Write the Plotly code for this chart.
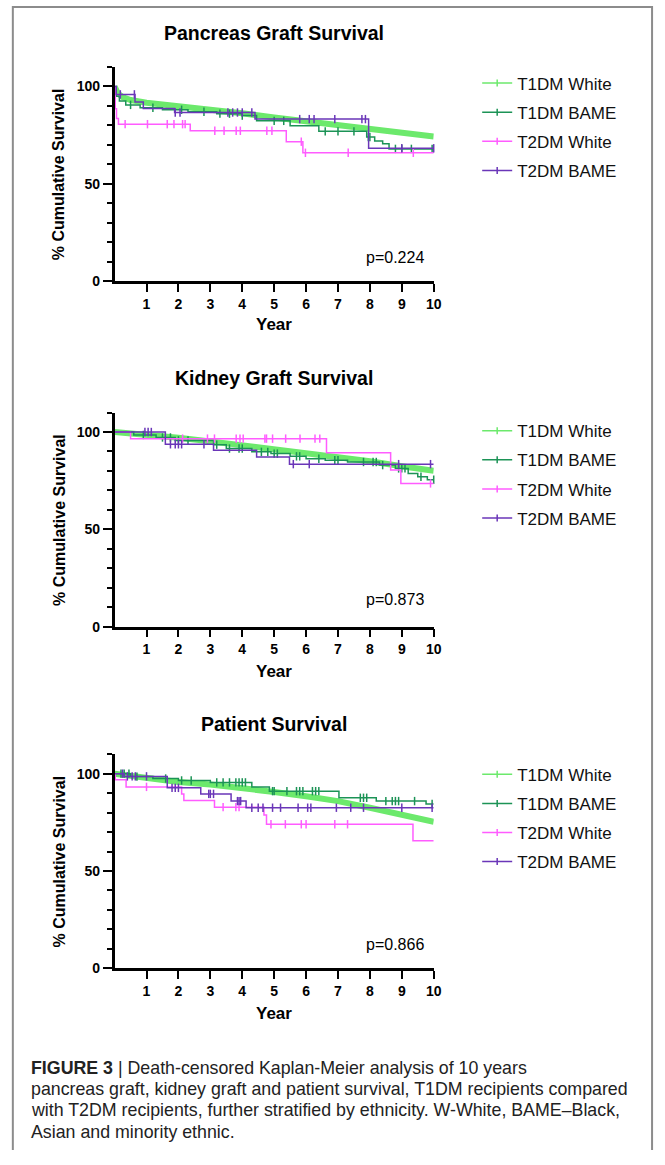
import plotly.graph_objects as go

FONT = "Liberation Sans, Arial, Helvetica, sans-serif"
W, H = 665, 1165

# ---------------------------
# Données
# ---------------------------
series_names = ["T1DM White", "T1DM BAME", "T2DM White", "T2DM BAME"]
series_colors = ["#6CE96C", "#1C9356", "#FF5CFF", "#6A36B8"]
panel_titles = ["Pancreas Graft Survival", "Kidney Graft Survival", "Patient Survival"]
p_values = ["p=0.224", "p=0.873", "p=0.866"]
x_ticks = [1, 2, 3, 4, 5, 6, 7, 8, 9, 10]

# Pancreas
panc_t1w_t = [0, 0.1, 0.25, 0.5, 1, 2, 3, 4, 5, 6, 7, 8, 9, 10]
panc_t1w_s = [100, 96.5, 94.5, 93, 91.6, 89.9, 87.9, 86.2, 84, 82, 79.8, 78.1, 76.4, 74.3]
panc_t1b_t = [0, 0.05, 0.15, 0.35, 0.8, 1.5, 2.3, 3.2, 4.0, 4.45, 5.5, 6.4, 7.9, 8.15, 8.4, 8.6, 10]
panc_t1b_s = [100, 95, 92.5, 90.5, 89, 88, 87, 86, 85, 82.3, 79.8, 76.9, 74, 72, 70.5, 67.9, 67.9]
panc_t1b_c = [0.5, 1.2, 2.1, 2.8, 3.3, 3.6, 4.0, 5.0, 5.3, 6.6, 7.0, 7.5, 7.95, 8.0, 8.8, 9.0, 9.3, 9.95]
panc_t2w_t = [0, 0.02, 0.06, 0.12, 2.37, 5.38, 5.9, 10]
panc_t2w_s = [100, 88.5, 83.5, 80.6, 77.2, 71.6, 65.9, 65.9]
panc_t2w_c = [0.33, 1.03, 1.65, 1.86, 2.13, 2.21, 3.14, 3.43, 3.81, 3.94, 4.77, 4.93, 5.85, 5.98, 7.32, 9.36]
panc_t2b_t = [0, 0.05, 0.64, 0.9, 1.88, 4.4, 7.96, 10]
panc_t2b_s = [100, 95.9, 92, 88.6, 86.6, 83.2, 68.2, 68.2]
panc_t2b_c = [0.18, 0.62, 1.9, 2.05, 3.55, 3.7, 3.85, 4.0, 4.3, 5.8, 6.1, 6.25, 6.9, 7.75, 7.86, 9.0, 10.0]

# Kidney
kid_t1w_t = [0, 1, 2, 3, 4, 5, 6, 7, 8, 9, 10]
kid_t1w_s = [100, 98.8, 97.1, 95.2, 93.2, 91, 88.9, 86.9, 85, 82.4, 80.1]
kid_t1b_t = [0, 0.6, 1.3, 1.9, 3.1, 3.5, 4.3, 4.9, 5.5, 6.0, 6.6, 7.3, 8.3, 8.8, 9.2, 9.5, 9.8, 10]
kid_t1b_s = [100, 98.5, 97.2, 95.7, 93.5, 91.5, 89.8, 88.9, 87.5, 86.3, 85.5, 84.6, 83, 81.3, 78.7, 77, 75.5, 75.5]
kid_t1b_c = [0.9, 1.5, 1.75, 2.0, 2.3, 3.2, 3.6, 3.9, 4.0, 4.6, 4.8, 5.0, 5.1, 5.7, 5.8, 6.4, 6.9,
             7.0, 7.8, 8.1, 8.2, 8.4, 8.9, 9.0, 9.1, 9.6, 10.0]
kid_t2w_t = [0, 0.5, 6.64, 8.65, 8.97, 10]
kid_t2w_s = [100, 96.6, 89.4, 80.5, 73.6, 73.6]
kid_t2w_c = [2.13, 2.91, 3.13, 3.81, 3.93, 4.03, 4.71, 4.76, 4.95, 5.36, 5.81, 6.28, 6.43, 9.9]
kid_t2b_t = [0, 1.59, 3.1, 4.45, 5.48, 10]
kid_t2b_s = [100, 93.7, 90.6, 87.2, 83.5, 83.5]
kid_t2b_c = [0.95, 1.05, 1.15, 1.75, 1.9, 2.0, 2.1, 2.8, 5.6, 6.1, 8.9, 9.9]

# Patient
pat_t1w_t = [0, 1, 2, 3, 4, 5, 6, 7, 8, 9, 10]
pat_t1w_s = [100, 97.8, 95.7, 94.4, 92.7, 90.6, 88.4, 85.9, 82.5, 79.1, 75.3]
pat_t1b_t = [0, 0.5, 1.2, 2.0, 3.0, 4.3, 4.85, 7.03, 8.2, 9.76, 10]
pat_t1b_s = [100, 98.5, 97.5, 96.5, 95.5, 93.2, 91, 87.6, 85.9, 84.4, 84.4]
pat_t1b_c = [0.2, 0.3, 0.45, 0.7, 1.6, 2.1, 2.4, 3.2, 3.4, 3.6, 3.8, 3.9, 4.0, 4.1, 4.95, 5.0, 5.4, 5.7,
             5.8, 5.9, 6.2, 6.3, 6.4, 7.7, 7.8, 7.9, 8.5, 8.7, 8.8, 8.9, 9.4, 9.95]
pat_t2w_t = [0, 0.02, 0.36, 2.1, 2.17, 3.13, 4.68, 4.76, 9.35, 10]
pat_t2w_s = [100, 96.9, 93.2, 89.6, 86.2, 82.8, 78.8, 74, 65.5, 65.5]
pat_t2w_c = [1.0, 3.4, 3.8, 3.9, 4.9, 5.35, 5.85, 6.0, 6.9, 7.3]
pat_t2b_t = [0, 0.3, 1.65, 2.7, 3.65, 4.12, 10]
pat_t2b_s = [100, 98.6, 92.7, 89.6, 85.9, 82.5, 82.5]
pat_t2b_c = [0.25, 0.4, 0.55, 0.65, 1.0, 1.8, 1.9, 2.0, 2.95, 3.0, 3.1, 3.85, 3.9, 3.95, 4.3, 4.5, 4.65,
             4.95, 5.2, 5.75, 6.05, 6.15, 6.95, 7.4, 7.8, 9.0, 9.95]

caption_lines = [
    "<b>FIGURE 3</b> | Death-censored Kaplan-Meier analysis of 10 years",
    "pancreas graft, kidney graft and patient survival, T1DM recipients compared",
    "with T2DM recipients, further stratified by ethnicity. W-White, BAME\u2013Black,",
    "Asian and minority ethnic.",
]

panels = [
    [(panc_t1w_t, panc_t1w_s, []), (panc_t1b_t, panc_t1b_s, panc_t1b_c),
     (panc_t2w_t, panc_t2w_s, panc_t2w_c), (panc_t2b_t, panc_t2b_s, panc_t2b_c)],
    [(kid_t1w_t, kid_t1w_s, []), (kid_t1b_t, kid_t1b_s, kid_t1b_c),
     (kid_t2w_t, kid_t2w_s, kid_t2w_c), (kid_t2b_t, kid_t2b_s, kid_t2b_c)],
    [(pat_t1w_t, pat_t1w_s, []), (pat_t1b_t, pat_t1b_s, pat_t1b_c),
     (pat_t2w_t, pat_t2w_s, pat_t2w_c), (pat_t2b_t, pat_t2b_s, pat_t2b_c)],
]

# ---------------------------
# Mise en page (pixels)
# ---------------------------
plot_left, plot_right = 116, 439
panel_bottoms = [283, 631, 975]
panel_height = 215.6
title_y = [33, 381, 729]
year_y = [327, 676, 1021]
pval_y = [259, 604, 951]
legend_top = [66, 416, 762]


def pxx(p):
    return p / W


def pxy(p):
    return 1 - p / H


def step_at(ts, ss, tc):
    # valeur de la courbe en escalier au temps tc
    val = ss[0]
    for t, s in zip(ts, ss):
        if t <= tc:
            val = s
    return val


fig = go.Figure()
annotations = []

for i, panel in enumerate(panels):
    n = i + 1
    xa = "x" if n == 1 else f"x{n}"
    ya = "y" if n == 1 else f"y{n}"
    leg = "legend" if n == 1 else f"legend{n}"

    for k, (ts, ss, cs) in enumerate(panel):
        color = series_colors[k]
        if k == 0:
            # T1DM White : bande épaisse (nombreuses censures)
            fig.add_trace(go.Scatter(x=ts, y=ss, mode="lines", xaxis=xa, yaxis=ya,
                                     line=dict(color=color, width=6), showlegend=False,
                                     hoverinfo="skip"))
        else:
            fig.add_trace(go.Scatter(x=ts, y=ss, mode="lines", xaxis=xa, yaxis=ya,
                                     line=dict(color=color, width=1.5, shape="hv"),
                                     showlegend=False, hoverinfo="skip"))
            fig.add_trace(go.Scatter(x=cs, y=[step_at(ts, ss, c) for c in cs], mode="markers",
                                     xaxis=xa, yaxis=ya, cliponaxis=False, showlegend=False,
                                     marker=dict(symbol="line-ns-open", size=6, color=color,
                                                 line=dict(color=color, width=1.5)),
                                     hoverinfo="skip"))

    # entrées de légende
    for k, name in enumerate(series_names):
        fig.add_trace(go.Scatter(x=[None], y=[None], mode="lines+markers", name=name,
                                 xaxis=xa, yaxis=ya, legend=leg, legendgroup=f"{n}-{k}",
                                 legendrank=k + 1,
                                 line=dict(color=series_colors[k], width=1.5),
                                 marker=dict(symbol="line-ns-open", size=5, color=series_colors[k],
                                             line=dict(color=series_colors[k], width=1.5))))

    bottom = panel_bottoms[i]
    top = bottom - panel_height
    axis_font = dict(family=FONT, size=14, color="black", weight="bold")
    xkey = "xaxis" if n == 1 else f"xaxis{n}"
    ykey = "yaxis" if n == 1 else f"yaxis{n}"
    fig.update_layout({
        xkey: dict(domain=[pxx(plot_left), pxx(plot_right)], range=[0, 10], anchor=ya,
                   tickmode="array", tickvals=x_ticks, ticks="outside", ticklen=8, tickwidth=2,
                   tickcolor="black", showline=True, linewidth=2.5, linecolor="black",
                   showgrid=False, zeroline=False, tickfont=axis_font, fixedrange=True),
        ykey: dict(domain=[pxy(bottom), pxy(top)], range=[0, 110], anchor=xa,
                   tick0=0, dtick=50, ticks="outside", ticklen=9, tickwidth=2, tickcolor="black",
                   minor=dict(dtick=10, tick0=0, ticks="outside", ticklen=5, tickwidth=2,
                              tickcolor="black", showgrid=False),
                   showline=True, linewidth=2.5, linecolor="black", showgrid=False,
                   zeroline=False, tickfont=axis_font, fixedrange=True),
        leg: dict(x=pxx(483), y=pxy(legend_top[i]), xanchor="left", yanchor="top",
                  font=dict(family=FONT, size=17, color="#111"), tracegroupgap=4,
                  bgcolor="rgba(0,0,0,0)", itemwidth=30),
    })

    cx = pxx((plot_left + plot_right) / 2)
    annotations += [
        dict(text=f"<b>{panel_titles[i]}</b>", x=cx, y=pxy(title_y[i]),
             font=dict(family=FONT, size=19.5, color="black")),
        dict(text="<b>Year</b>", x=cx, y=pxy(year_y[i]),
             font=dict(family=FONT, size=17, color="black")),
        dict(text="<b>% Cumulative Survival</b>", x=pxx(60), y=pxy((top + bottom) / 2),
             textangle=-90, font=dict(family=FONT, size=16, color="black")),
        dict(text=p_values[i], x=pxx(400), y=pxy(pval_y[i]),
             font=dict(family=FONT, size=16, color="black")),
    ]

for j, line in enumerate(caption_lines):
    annotations.append(dict(text=line, x=pxx(29), y=pxy(1075 + 21.5 * j), xanchor="left",
                            font=dict(family=FONT, size=17.8, color="#222")))

for a in annotations:
    a.update(xref="paper", yref="paper", showarrow=False)
    a.setdefault("xanchor", "center")
    a.setdefault("yanchor", "middle")

# cadre gris autour de la figure
frame = dict(type="path", xref="paper", yref="paper",
             path=f"M {pxx(13)},{pxy(1158)} L {pxx(13)},{pxy(7)} L {pxx(660)},{pxy(7)} L {pxx(660)},{pxy(1158)}",
             line=dict(color="#8C8C8C", width=2))

fig.update_layout(
    width=W, height=H,
    margin=dict(l=0, r=0, t=0, b=0),
    paper_bgcolor="white", plot_bgcolor="white",
    annotations=annotations,
    shapes=[frame],
    font=dict(family=FONT),
)

fig.write_html("out.html", config={"displayModeBar": False},
               post_script="document.body.style.margin='0';")
